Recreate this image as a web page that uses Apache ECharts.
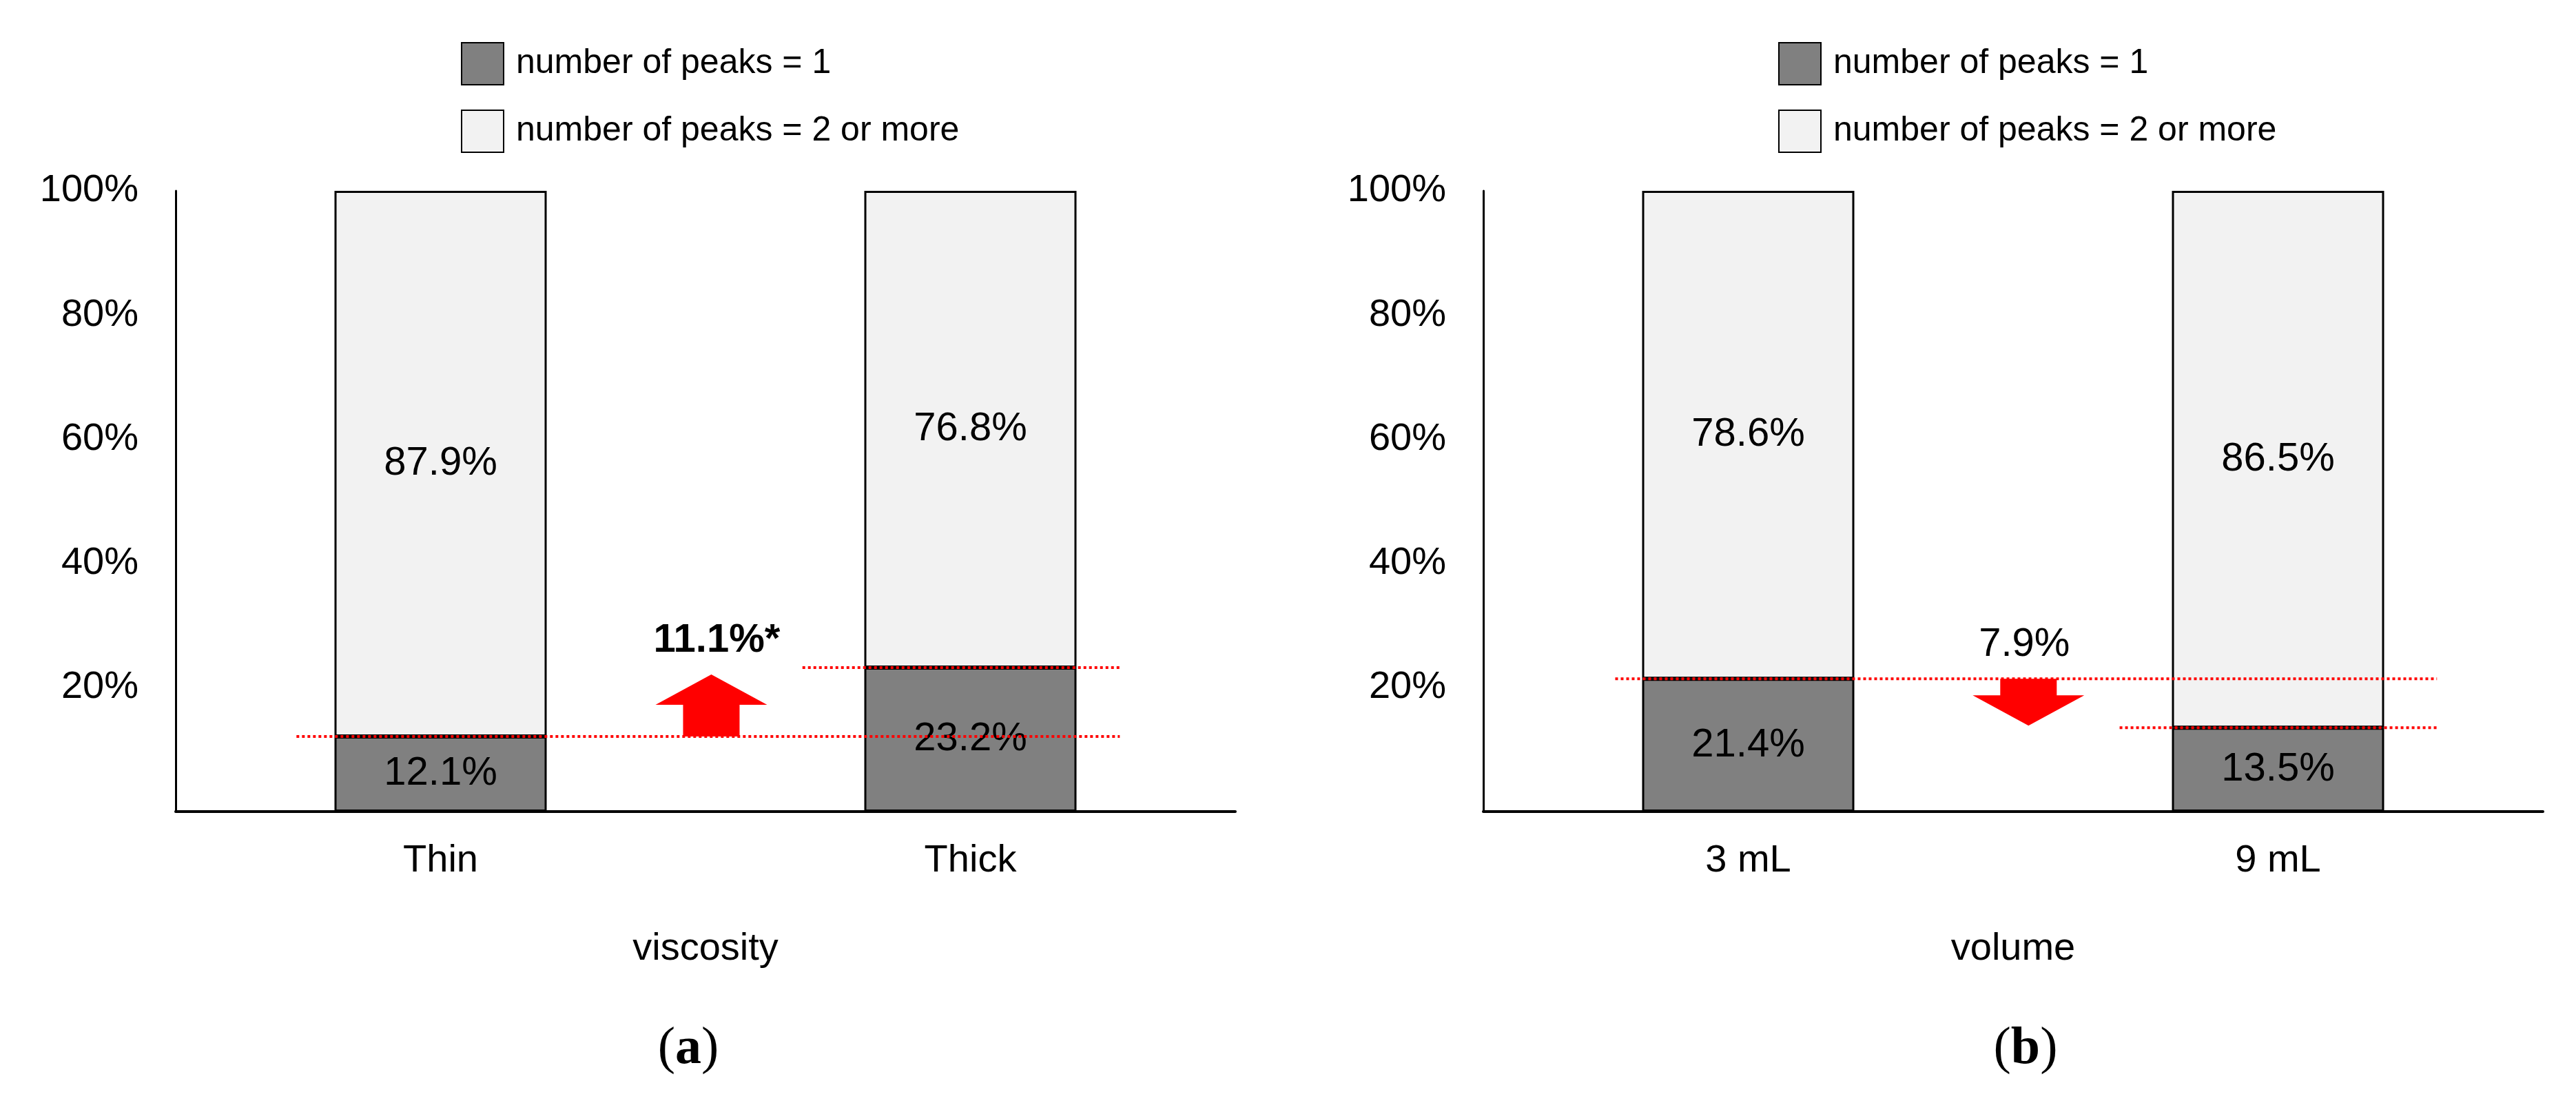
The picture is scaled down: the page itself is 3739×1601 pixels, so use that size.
<!DOCTYPE html>
<html lang="en">
<head>
    <meta charset="UTF-8">
    <title>number of peaks</title>
    <script type="text/javascript" src="https://cdn.jsdelivr.net/npm/echarts@6/dist/echarts.min.js"></script>
    <style>
        html, body { margin: 0; padding: 0; background: #fff; }
        #container { width: 3739px; height: 1601px; }
    </style>
</head>
<body>
<div id="container"></div>
<script type="text/javascript">
    // data
    var seriesNames = ['number of peaks = 1', 'number of peaks = 2 or more'];
    var catsA = ['Thin', 'Thick'];
    var catsB = ['3 mL', '9 mL'];
    var singleA = [12.1, 23.2];
    var multiA = [87.9, 76.8];
    var singleB = [21.4, 13.5];
    var multiB = [78.6, 86.5];
    var changeLabels = ['11.1%*', '7.9%'];
    var yTicks = [0, 20, 40, 60, 80, 100];

    var FONT = "'Liberation Sans', Arial, sans-serif";
    var SERIF = "'Liberation Serif', 'Times New Roman', serif";
    var GRID_W = 1538, GRID_H = 901, GRID_TOP = 277;
    var gridLefts = [255, 2153];

    var dom = document.getElementById('container');
    var myChart = echarts.init(dom, null, {renderer: 'canvas'});

    function catAxis(idx, cats, name) {
        return {
            type: 'category', gridIndex: idx, data: cats,
            axisLine: {onZero: false, lineStyle: {color: '#000', width: 4}},
            axisTick: {show: false},
            axisLabel: {color: '#000', fontSize: 56, fontFamily: FONT, margin: 44},
            name: name, nameLocation: 'middle', nameGap: 172,
            nameTextStyle: {color: '#000', fontSize: 56, fontFamily: FONT}
        };
    }
    function hiddenAxis(idx) {
        // helper axis: category 0 sits at 0, category 1 at 1
        return {type: 'value', gridIndex: idx, min: -0.5, max: 1.5, show: false};
    }
    function valAxis(idx) {
        return {
            type: 'value', gridIndex: idx, min: yTicks[0], max: yTicks[yTicks.length - 1], interval: 20,
            splitLine: {show: false}, axisTick: {show: false},
            axisLine: {show: true, onZero: false, lineStyle: {color: '#000', width: 3}},
            axisLabel: {
                color: '#000', fontSize: 56, fontFamily: FONT, margin: 54,
                formatter: function (v) { return v === 0 ? '' : v + '%'; }
            }
        };
    }
    function barSeries(name, idx, data, color) {
        return {
            name: name, type: 'bar', stack: 'p' + idx, xAxisIndex: idx, yAxisIndex: idx,
            data: data, barWidth: 308,
            itemStyle: {color: color, borderColor: '#000', borderWidth: 3},
            label: {
                show: true, position: 'inside', color: '#000', fontSize: 58, fontFamily: FONT,
                formatter: function (p) { return p.value.toFixed(1) + '%'; }
            },
            z: 2
        };
    }
    function refLine(idx, value, from, to) {
        return {
            type: 'line', xAxisIndex: idx + 2, yAxisIndex: idx,
            data: [[from, value], [to, value]],
            symbol: 'none', silent: true, z: 5,
            lineStyle: {color: '#ff0000', width: 4, type: [4, 4]}
        };
    }
    function arrowSeries(idx, from, to, opt) {
        return {
            type: 'custom', xAxisIndex: idx + 2, yAxisIndex: idx, silent: true, z: 6, clip: false,
            data: [[opt.x, from, to]],
            renderItem: function (params, api) {
                var p0 = api.coord([api.value(0), api.value(1)]);
                var p1 = api.coord([api.value(0), api.value(2)]);
                var dir = p1[1] > p0[1] ? 1 : -1;
                var tipY = p1[1] - dir * opt.inset;
                var headY = tipY - dir * 44;
                var cx = p0[0];
                var pts = [[cx - 41, p0[1]], [cx - 41, headY], [cx - 81, headY], [cx, tipY],
                    [cx + 81, headY], [cx + 41, headY], [cx + 41, p0[1]]];
                return {
                    type: 'group',
                    children: [
                        {type: 'polygon', shape: {points: pts}, style: {fill: '#ff0000'}},
                        {
                            type: 'text', x: cx + opt.dx, y: Math.min(p0[1], tipY) - 49,
                            style: {
                                text: changeLabels[idx], fill: '#000', fontSize: 58, fontFamily: FONT,
                                fontWeight: opt.bold ? 'bold' : 'normal', align: 'center', verticalAlign: 'middle'
                            }
                        }
                    ]
                };
            }
        };
    }
    function legendAt(left) {
        return {
            data: seriesNames, orient: 'vertical', left: left, top: 56,
            itemWidth: 61, itemHeight: 61, itemGap: 35, icon: 'rect',
            selectedMode: false,
            textStyle: {color: '#000', fontSize: 50, fontFamily: FONT, padding: [0, 0, 0, 13]}
        };
    }
    function panelLabel(x, letter) {
        return {
            type: 'text', x: x, y: 1523,
            style: {
                text: '{p|(}{b|' + letter + '}{p|)}', align: 'center', verticalAlign: 'middle',
                rich: {
                    p: {fontSize: 76, fontFamily: SERIF, fill: '#000'},
                    b: {fontSize: 76, fontFamily: SERIF, fontWeight: 'bold', fill: '#000'}
                }
            }
        };
    }

    var option = {
        animation: false,
        backgroundColor: '#fff',
        legend: [legendAt(664), legendAt(2576)],
        grid: gridLefts.map(function (l) {
            return {left: l, top: GRID_TOP, width: GRID_W, height: GRID_H};
        }),
        xAxis: [catAxis(0, catsA, 'viscosity'), catAxis(1, catsB, 'volume'), hiddenAxis(0), hiddenAxis(1)],
        yAxis: [valAxis(0), valAxis(1)],
        series: [
            barSeries(seriesNames[0], 0, singleA, '#808080'),
            barSeries(seriesNames[1], 0, multiA, '#f2f2f2'),
            barSeries(seriesNames[0], 1, singleB, '#808080'),
            barSeries(seriesNames[1], 1, multiB, '#f2f2f2'),
            refLine(0, singleA[0], -0.272, 1.282),
            refLine(0, singleA[1], 0.683, 1.282),
            refLine(1, singleB[0], -0.251, 1.3),
            refLine(1, singleB[1], 0.701, 1.3),
            arrowSeries(0, singleA[0], singleA[1], {x: 0.511, inset: 10, dx: 8, bold: true}),
            arrowSeries(1, singleB[0], singleB[1], {x: 0.529, inset: 3, dx: -6, bold: false})
        ],
        graphic: [panelLabel(999, 'a'), panelLabel(2940, 'b')]
    };

    myChart.setOption(option);
    window.addEventListener('resize', myChart.resize);
</script>
</body>
</html>
